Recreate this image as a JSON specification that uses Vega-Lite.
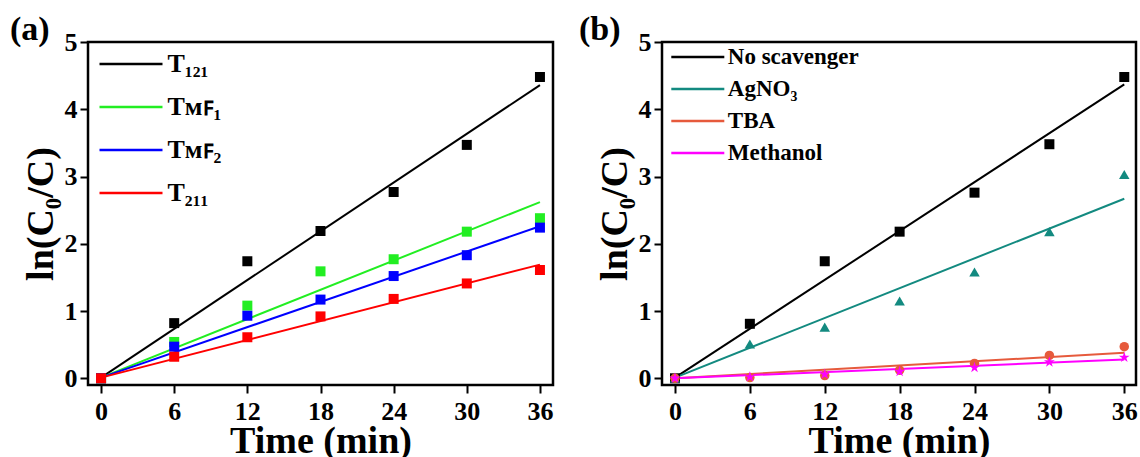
{
  "$schema": "https://vega.github.io/schema/vega-lite/v6.json",
  "background": "white",
  "padding": {"left": 8, "top": 11, "right": 3, "bottom": 0},
  "spacing": 22,
  "resolve": {"scale": {"color": "independent", "x": "independent", "y": "independent"}, "legend": {"color": "independent"}},
  "config": {
    "view": {"stroke": "black", "strokeWidth": 2.5},
    "font": "Liberation Serif",
    "axis": {
      "grid": false, "domain": false,
      "labelFont": "Liberation Serif", "labelFontWeight": "bold", "labelFontSize": 26, "labelColor": "black",
      "titleFont": "Liberation Serif", "titleFontWeight": "bold", "titleFontSize": 38, "titleColor": "black",
      "tickColor": "black", "tickWidth": 2, "labelFlush": false, "labelOverlap": false
    },
    "legend": {
      "labelFont": "Liberation Serif", "labelFontWeight": "bold", "labelColor": "black",
      "orient": "none", "title": null, "symbolStrokeWidth": 2.5, "padding": 0
    },
    "title": {"font": "Liberation Serif", "fontWeight": "bold", "fontSize": 34, "anchor": "start", "frame": "bounds", "color": "black"}
  },
  "datasets": {
    "a_pts": [
      {"series": "T₁₂₁", "time": 0, "lnc": 0}, {"series": "T₁₂₁", "time": 6, "lnc": 0.82}, {"series": "T₁₂₁", "time": 12, "lnc": 1.74}, {"series": "T₁₂₁", "time": 18, "lnc": 2.19}, {"series": "T₁₂₁", "time": 24, "lnc": 2.77}, {"series": "T₁₂₁", "time": 30, "lnc": 3.47}, {"series": "T₁₂₁", "time": 36, "lnc": 4.48},
      {"series": "Tᴍꜰ₁", "time": 0, "lnc": 0}, {"series": "Tᴍꜰ₁", "time": 6, "lnc": 0.54}, {"series": "Tᴍꜰ₁", "time": 12, "lnc": 1.08}, {"series": "Tᴍꜰ₁", "time": 18, "lnc": 1.59}, {"series": "Tᴍꜰ₁", "time": 24, "lnc": 1.77}, {"series": "Tᴍꜰ₁", "time": 30, "lnc": 2.18}, {"series": "Tᴍꜰ₁", "time": 36, "lnc": 2.38},
      {"series": "Tᴍꜰ₂", "time": 0, "lnc": 0}, {"series": "Tᴍꜰ₂", "time": 6, "lnc": 0.47}, {"series": "Tᴍꜰ₂", "time": 12, "lnc": 0.93}, {"series": "Tᴍꜰ₂", "time": 18, "lnc": 1.17}, {"series": "Tᴍꜰ₂", "time": 24, "lnc": 1.52}, {"series": "Tᴍꜰ₂", "time": 30, "lnc": 1.83}, {"series": "Tᴍꜰ₂", "time": 36, "lnc": 2.24},
      {"series": "T₂₁₁", "time": 0, "lnc": 0}, {"series": "T₂₁₁", "time": 6, "lnc": 0.32}, {"series": "T₂₁₁", "time": 12, "lnc": 0.61}, {"series": "T₂₁₁", "time": 18, "lnc": 0.92}, {"series": "T₂₁₁", "time": 24, "lnc": 1.18}, {"series": "T₂₁₁", "time": 30, "lnc": 1.41}, {"series": "T₂₁₁", "time": 36, "lnc": 1.61}
    ],
    "a_fit": [
      {"series": "T₁₂₁", "time": 0, "lnc": 0.01}, {"series": "T₁₂₁", "time": 36, "lnc": 4.36},
      {"series": "Tᴍꜰ₁", "time": 0, "lnc": 0.01}, {"series": "Tᴍꜰ₁", "time": 36, "lnc": 2.62},
      {"series": "Tᴍꜰ₂", "time": 0, "lnc": 0.01}, {"series": "Tᴍꜰ₂", "time": 36, "lnc": 2.26},
      {"series": "T₂₁₁", "time": 0, "lnc": 0.01}, {"series": "T₂₁₁", "time": 36, "lnc": 1.69}
    ],
    "b_pts": [
      {"series": "No scavenger", "time": 0, "lnc": 0}, {"series": "No scavenger", "time": 6, "lnc": 0.81}, {"series": "No scavenger", "time": 12, "lnc": 1.74}, {"series": "No scavenger", "time": 18, "lnc": 2.18}, {"series": "No scavenger", "time": 24, "lnc": 2.76}, {"series": "No scavenger", "time": 30, "lnc": 3.48}, {"series": "No scavenger", "time": 36, "lnc": 4.48},
      {"series": "AgNO₃", "time": 0, "lnc": 0}, {"series": "AgNO₃", "time": 6, "lnc": 0.51}, {"series": "AgNO₃", "time": 12, "lnc": 0.76}, {"series": "AgNO₃", "time": 18, "lnc": 1.15}, {"series": "AgNO₃", "time": 24, "lnc": 1.58}, {"series": "AgNO₃", "time": 30, "lnc": 2.18}, {"series": "AgNO₃", "time": 36, "lnc": 3.03},
      {"series": "TBA", "time": 0, "lnc": 0}, {"series": "TBA", "time": 6, "lnc": 0.01}, {"series": "TBA", "time": 12, "lnc": 0.04}, {"series": "TBA", "time": 18, "lnc": 0.12}, {"series": "TBA", "time": 24, "lnc": 0.22}, {"series": "TBA", "time": 30, "lnc": 0.34}, {"series": "TBA", "time": 36, "lnc": 0.47},
      {"series": "Methanol", "time": 0, "lnc": 0}, {"series": "Methanol", "time": 6, "lnc": 0.02}, {"series": "Methanol", "time": 12, "lnc": 0.06}, {"series": "Methanol", "time": 18, "lnc": 0.1}, {"series": "Methanol", "time": 24, "lnc": 0.16}, {"series": "Methanol", "time": 30, "lnc": 0.24}, {"series": "Methanol", "time": 36, "lnc": 0.31}
    ],
    "b_fit": [
      {"series": "No scavenger", "time": 0, "lnc": 0.01}, {"series": "No scavenger", "time": 36, "lnc": 4.37},
      {"series": "AgNO₃", "time": 0, "lnc": 0.01}, {"series": "AgNO₃", "time": 36, "lnc": 2.67},
      {"series": "TBA", "time": 0, "lnc": 0}, {"series": "TBA", "time": 36, "lnc": 0.38},
      {"series": "Methanol", "time": 0, "lnc": 0}, {"series": "Methanol", "time": 36, "lnc": 0.28}
    ]
  },
  "hconcat": [
    {
      "width": 465, "height": 343,
      "title": {"text": "(a)", "dx": -12, "dy": 22},
      "layer": [
        {
          "data": {"name": "a_fit"},
          "mark": {"type": "line", "strokeWidth": 2},
          "encoding": {
            "x": {"field": "time", "type": "quantitative", "scale": {"domain": [-1.07, 37.07], "nice": false, "zero": false},
              "axis": {"title": "Time (min)", "values": [0,3,6,9,12,15,18,21,24,27,30,33,36], "labelExpr": "datum.value % 6 === 0 ? datum.label : ''", "tickSize": {"condition": {"test": "datum.value % 6 === 0", "value": 8}, "value": 5}, "labelPadding": 5, "titlePadding": -2}},
            "y": {"field": "lnc", "type": "quantitative", "scale": {"domain": [-0.1, 5], "nice": false, "zero": false},
              "axis": {"title": "ln(C₀/C)", "values": [0,0.5,1,1.5,2,2.5,3,3.5,4,4.5,5], "labelExpr": "datum.value % 1 === 0 ? format(datum.value, 'd') : ''", "tickSize": {"condition": {"test": "datum.value % 1 === 0", "value": 8}, "value": 5}, "labelPadding": 3, "titlePadding": 4}},
            "color": {"field": "series", "type": "nominal",
              "scale": {"domain": ["T₁₂₁", "Tᴍꜰ₁", "Tᴍꜰ₂", "T₂₁₁"], "range": ["#000000", "#22ee22", "#0000ff", "#ff0000"]},
              "legend": {"symbolType": "M-1.105,0H1.105", "symbolSize": 3250, "labelFontSize": 26, "legendX": 13, "legendY": -8, "rowPadding": 0, "labelOffset": 6.5}}
          }
        },
        {
          "data": {"name": "a_pts"},
          "mark": {"type": "point", "shape": "square", "filled": true, "size": 100, "opacity": 1},
          "encoding": {
            "x": {"field": "time", "type": "quantitative"},
            "y": {"field": "lnc", "type": "quantitative"},
            "color": {"field": "series", "type": "nominal", "legend": null}
          }
        }
      ]
    },
    {
      "width": 474, "height": 343,
      "title": {"text": "(b)", "dx": -17, "dy": 22},
      "layer": [
        {
          "data": {"name": "b_fit"},
          "mark": {"type": "line", "strokeWidth": 2},
          "encoding": {
            "x": {"field": "time", "type": "quantitative", "scale": {"domain": [-1.04, 36.94], "nice": false, "zero": false},
              "axis": {"title": "Time (min)", "values": [0,3,6,9,12,15,18,21,24,27,30,33,36], "labelExpr": "datum.value % 6 === 0 ? datum.label : ''", "tickSize": {"condition": {"test": "datum.value % 6 === 0", "value": 8}, "value": 5}, "labelPadding": 5, "titlePadding": -2}},
            "y": {"field": "lnc", "type": "quantitative", "scale": {"domain": [-0.1, 5], "nice": false, "zero": false},
              "axis": {"title": "ln(C₀/C)", "values": [0,0.5,1,1.5,2,2.5,3,3.5,4,4.5,5], "labelExpr": "datum.value % 1 === 0 ? format(datum.value, 'd') : ''", "tickSize": {"condition": {"test": "datum.value % 1 === 0", "value": 8}, "value": 5}, "labelPadding": 3, "titlePadding": 4}},
            "color": {"field": "series", "type": "nominal",
              "scale": {"domain": ["No scavenger", "AgNO₃", "TBA", "Methanol"], "range": ["#000000", "#138a80", "#e65a3c", "#ff00ff"]},
              "legend": {"symbolType": "M-1.417,0H1.417", "symbolSize": 1400, "labelFontSize": 23, "legendX": 15.8, "legendY": -5, "rowPadding": 0, "labelOffset": 10}}
          }
        },
        {
          "data": {"name": "b_pts"},
          "transform": [{"filter": "datum.series === 'No scavenger'"}],
          "mark": {"type": "point", "shape": "square", "filled": true, "size": 100, "opacity": 1},
          "encoding": {
            "x": {"field": "time", "type": "quantitative"},
            "y": {"field": "lnc", "type": "quantitative"},
            "color": {"field": "series", "type": "nominal", "legend": null}
          }
        },
        {
          "data": {"name": "b_pts"},
          "transform": [{"filter": "datum.series === 'AgNO₃'"}],
          "mark": {"type": "point", "shape": "triangle-up", "filled": true, "size": 110, "opacity": 1},
          "encoding": {
            "x": {"field": "time", "type": "quantitative"},
            "y": {"field": "lnc", "type": "quantitative"},
            "color": {"field": "series", "type": "nominal", "legend": null}
          }
        },
        {
          "data": {"name": "b_pts"},
          "transform": [{"filter": "datum.series === 'TBA'"}],
          "mark": {"type": "point", "shape": "circle", "filled": true, "size": 90, "opacity": 1},
          "encoding": {
            "x": {"field": "time", "type": "quantitative"},
            "y": {"field": "lnc", "type": "quantitative"},
            "color": {"field": "series", "type": "nominal", "legend": null}
          }
        },
        {
          "data": {"name": "b_pts"},
          "transform": [{"filter": "datum.series === 'Methanol'"}],
          "mark": {"type": "point", "shape": "M0,-1L0.2245,-0.309L0.951,-0.309L0.363,0.118L0.588,0.809L0,0.382L-0.588,0.809L-0.363,0.118L-0.951,-0.309L-0.2245,-0.309Z", "filled": true, "size": 130, "opacity": 1},
          "encoding": {
            "x": {"field": "time", "type": "quantitative"},
            "y": {"field": "lnc", "type": "quantitative"},
            "color": {"field": "series", "type": "nominal", "legend": null}
          }
        }
      ]
    }
  ]
}
